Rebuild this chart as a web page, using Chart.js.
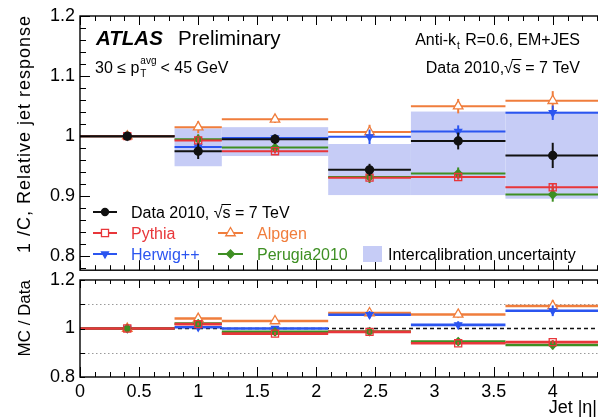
<!DOCTYPE html>
<html>
<head>
<meta charset="utf-8">
<script src="https://cdn.jsdelivr.net/npm/chart.js@4"></script>
<style>
html, body { margin: 0; padding: 0; background: #fff; overflow: hidden; width: 598px; height: 419px; }
canvas { position: absolute; left: 0; }
#top { top: 0; }
#ratio { top: 262px; }
</style>
</head>
<body>
<canvas id="top" width="600" height="286"></canvas>
<canvas id="ratio" width="600" height="157"></canvas>
<script>
// eta bins
const binLo = [0, 0.8, 1.2, 2.1, 2.8, 3.6];
const binHi = [0.8, 1.2, 2.1, 2.8, 3.6, 4.4];
const binCenter = [0.4, 1.0, 1.65, 2.45, 3.2, 4.0];

// relative response 1/C
const dataResp = [1.0, 0.975, 0.995, 0.944, 0.992, 0.968];
const dataErr = [0.002, 0.013, 0.008, 0.010, 0.014, 0.021];
const pythiaResp = [1.0, 0.993, 0.975, 0.931, 0.932, 0.915];
const alpgenResp = [1.0, 1.015, 1.028, 1.007, 1.050, 1.059];
const herwigResp = [1.0, 0.982, 0.997, 0.999, 1.008, 1.039];
const perugiaResp = [1.0, 0.995, 0.981, 0.932, 0.938, 0.903];
const pythiaErr = [0, 0.004, 0.004, 0.004, 0.004, 0.006];
const alpgenErr = [0, 0.010, 0.006, 0.012, 0.012, 0.016];
const herwigErr = [0, 0.008, 0.006, 0.012, 0.010, 0.012];
const perugiaErr = [0, 0.008, 0.006, 0.010, 0.010, 0.012];

// intercalibration uncertainty band
const bandLo = [null, 0.950, 0.967, 0.902, 0.902, 0.896];
const bandHi = [null, 1.013, 1.015, 0.987, 1.041, 1.041];

// MC / Data
const pythiaRatio = [1.0, 1.018, 0.979, 0.986, 0.939, 0.944];
const alpgenRatio = [1.0, 1.041, 1.031, 1.064, 1.058, 1.093];
const herwigRatio = [1.0, 1.005, 1.000, 1.057, 1.015, 1.073];
const perugiaRatio = [1.0, 1.020, 0.986, 0.987, 0.946, 0.932];
const pythiaRatioErr = [0, 0.006, 0.006, 0.006, 0.006, 0.008];
const alpgenRatioErr = [0, 0.015, 0.010, 0.015, 0.015, 0.025];
const herwigRatioErr = [0, 0.012, 0.010, 0.015, 0.015, 0.022];
const perugiaRatioErr = [0, 0.012, 0.010, 0.012, 0.012, 0.018];

// ticks
const topYTicks = [0.8, 0.9, 1, 1.1, 1.2];
const ratioYTicks = [0.8, 0.9, 1, 1.1, 1.2];
const xTicks = [0, 0.5, 1, 1.5, 2, 2.5, 3, 3.5, 4];

const FONT = "'Liberation Sans', Arial, Helvetica, sans-serif";
Chart.defaults.font.family = FONT;
Chart.defaults.color = '#000';

const colData = '#111111';
const colPythia = '#e8363a';
const colAlpgen = '#f07d3c';
const colHerwig = '#2b55f0';
const colPerugia = '#3e8f23';
const colBand = '#c6ccf6';

const stepData = vals => {
  const pts = [];
  vals.forEach((v, i) => {
    pts.push({x: binLo[i], y: v}, {x: binHi[i], y: v}, {x: binHi[i], y: null});
  });
  return pts;
};
const markData = vals => vals.map((v, i) => ({x: binCenter[i], y: v}));

const lineSet = (vals, color, width, order) => ({
  data: stepData(vals), showLine: true, borderColor: color, borderWidth: width,
  pointRadius: 0, spanGaps: false, order: order
});
const markSet = (vals, errs, color, style, radius, fill, order, rot) => ({
  data: markData(vals), showLine: false, errors: errs, errColor: color,
  pointStyle: style, pointRadius: radius, pointRotation: rot || 0,
  pointBackgroundColor: fill, pointBorderColor: color, pointBorderWidth: 1.3,
  order: order
});

const near = (a, b) => Math.abs(a - b) < 1e-6;
const fmt = v => String(Math.round(v * 10) / 10);

// error bars drawn just before the marker dataset
const errorBars = {
  id: 'errorBars',
  beforeDatasetDraw(chart, args) {
    const ds = chart.data.datasets[args.index];
    if (!ds.errors) return;
    const {ctx, scales: {x, y}} = chart;
    ctx.save();
    ctx.strokeStyle = ds.errColor;
    ctx.lineWidth = 2;
    ds.data.forEach((p, i) => {
      const e = ds.errors[i];
      if (!e) return;
      const px = x.getPixelForValue(p.x);
      ctx.beginPath();
      ctx.moveTo(px, y.getPixelForValue(p.y - e));
      ctx.lineTo(px, y.getPixelForValue(p.y + e));
      ctx.stroke();
    });
    ctx.restore();
  }
};

const bandPlugin = {
  id: 'band',
  beforeDatasetsDraw(chart) {
    const {ctx, scales: {x, y}} = chart;
    ctx.save();
    ctx.fillStyle = colBand;
    binLo.forEach((lo, i) => {
      if (bandLo[i] == null) return;
      const x0 = x.getPixelForValue(lo), x1 = x.getPixelForValue(binHi[i]);
      const y0 = y.getPixelForValue(bandHi[i]), y1 = y.getPixelForValue(bandLo[i]);
      ctx.fillRect(x0, y0, x1 - x0, y1 - y0);
    });
    ctx.restore();
  }
};

const refLines = {
  id: 'refLines',
  beforeDatasetsDraw(chart) {
    const {ctx, chartArea: a, scales: {y}} = chart;
    ctx.save();
    ctx.lineWidth = 1;
    ctx.strokeStyle = '#9a9a9a';
    ctx.setLineDash([1.5, 2.5]);
    [0.9, 1.1].forEach(v => {
      const py = Math.round(y.getPixelForValue(v)) + 0.5;
      ctx.beginPath(); ctx.moveTo(a.left, py); ctx.lineTo(a.right, py); ctx.stroke();
    });
    ctx.strokeStyle = '#111';
    ctx.lineWidth = 1.5;
    ctx.setLineDash([4, 3]);
    const py = y.getPixelForValue(1);
    ctx.beginPath(); ctx.moveTo(a.left, py); ctx.lineTo(a.right, py); ctx.stroke();
    ctx.restore();
  }
};

// ROOT style frame with inward ticks
const framePlugin = {
  id: 'frame',
  afterDatasetsDraw(chart, args, o) {
    const {ctx, chartArea: a, scales: {x, y}} = chart;
    ctx.save();
    ctx.strokeStyle = '#000';
    ctx.lineWidth = 1.4;
    ctx.strokeRect(a.left, a.top, a.right - a.left, a.bottom - a.top);
    ctx.lineWidth = 1;
    for (let v = 0; v <= x.max + 1e-9; v += o.xMinor) {
      const px = Math.round(x.getPixelForValue(v)) + 0.5;
      const major = xTicks.some(t => near(t, v));
      const lb = major ? o.xMajB : o.xMinB, lt = major ? o.xMajT : o.xMinT;
      ctx.beginPath();
      ctx.moveTo(px, a.bottom); ctx.lineTo(px, a.bottom - lb);
      ctx.moveTo(px, a.top); ctx.lineTo(px, a.top + lt);
      ctx.stroke();
    }
    const start = Math.ceil(y.min / o.yMinor - 1e-6) * o.yMinor;
    for (let v = start; v <= y.max + 1e-9; v += o.yMinor) {
      const py = Math.round(y.getPixelForValue(v)) + 0.5;
      const major = o.yMajors.some(t => near(t, v));
      const l = major ? o.yMaj : o.yMin;
      if (!l) continue;
      ctx.beginPath();
      ctx.moveTo(a.left, py); ctx.lineTo(a.left + l, py);
      ctx.stroke();
    }
    ctx.restore();
  }
};

function drawMarker(ctx, style, radius, x, y, stroke, fill, rot) {
  ctx.save();
  ctx.strokeStyle = stroke;
  ctx.fillStyle = fill;
  ctx.lineWidth = 1.3;
  Chart.helpers.drawPoint(ctx, {pointStyle: style, radius: radius, rotation: rot || 0, borderWidth: 1.3}, x, y);
  ctx.restore();
}

// overline above the "s" that follows the root sign
function rootBar(ctx, x0, base, before) {
  const xs = x0 + ctx.measureText(before).width;
  const ws = ctx.measureText('s').width;
  ctx.save();
  ctx.strokeStyle = ctx.fillStyle;
  ctx.lineWidth = 1;
  ctx.beginPath();
  ctx.moveTo(xs - 1, base - 13.5); ctx.lineTo(xs + ws + 0.5, base - 13.5);
  ctx.stroke();
  ctx.restore();
}

function legendItem(ctx, x0, x1, yc, color, style, radius, fill, rot, label, textColor) {
  ctx.save();
  ctx.strokeStyle = color;
  ctx.lineWidth = 2;
  ctx.beginPath(); ctx.moveTo(x0, yc); ctx.lineTo(x1, yc); ctx.stroke();
  ctx.restore();
  drawMarker(ctx, style, radius, (x0 + x1) / 2, yc, color, fill, rot);
  ctx.fillStyle = textColor;
  ctx.fillText(label, x1 + 14, yc + 6);
}

// draws "main" then a subscript and superscript on one spot, returns end x
function textSubSup(ctx, x, base, size, main, sub, sup) {
  ctx.font = size + 'px ' + FONT;
  ctx.fillText(main, x, base);
  let xe = x + ctx.measureText(main).width;
  ctx.font = Math.round(size * 0.62) + 'px ' + FONT;
  let w = 0;
  if (sub) { ctx.fillText(sub, xe + 1, base + 4); w = ctx.measureText(sub).width; }
  if (sup) { ctx.fillText(sup, xe + 1, base - 9); w = Math.max(w, ctx.measureText(sup).width); }
  return xe + w + 2;
}

const topText = {
  id: 'topText',
  afterDraw(chart) {
    const ctx = chart.ctx;
    ctx.save();
    ctx.fillStyle = '#000';
    ctx.textBaseline = 'alphabetic';
    ctx.font = 'italic bold 20.5px ' + FONT;
    ctx.fillText('ATLAS', 96, 45);
    ctx.font = '20.5px ' + FONT;
    ctx.fillText('Preliminary', 178, 45);

    let xe = textSubSup(ctx, 95, 73, 16, '30 \u2264 p', 'T', 'avg');
    ctx.font = '16px ' + FONT;
    ctx.fillText('< 45 GeV', xe + 3, 73);

    // right-hand labels
    ctx.font = '16px ' + FONT;
    const wA = ctx.measureText('Anti-k').width;
    const wB = ctx.measureText(' R=0.6, EM+JES').width;
    ctx.font = '10px ' + FONT;
    const wt = ctx.measureText('t').width + 2;
    let x0 = 580 - (wA + wt + wB);
    ctx.font = '16px ' + FONT;
    ctx.fillText('Anti-k', x0, 45);
    ctx.font = '10px ' + FONT;
    ctx.fillText('t', x0 + wA + 1, 49);
    ctx.font = '16px ' + FONT;
    ctx.fillText(' R=0.6, EM+JES', x0 + wA + wt, 45);

    const energy = 'Data 2010,\u221As = 7 TeV';
    const xE = 580 - ctx.measureText(energy).width;
    ctx.fillText(energy, xE, 73);
    rootBar(ctx, xE, 73, 'Data 2010,\u221A');

    // y title
    ctx.save();
    ctx.translate(25, 15);
    ctx.rotate(-Math.PI / 2);
    ctx.textAlign = 'right';
    ctx.textBaseline = 'middle';
    ctx.font = '18px ' + FONT;
    ctx.letterSpacing = '1px';
    ctx.fillText('1 /C, Relative jet response', 0, 0);
    ctx.restore();

    // legend
    ctx.font = '16px ' + FONT;
    legendItem(ctx, 93, 117, 212, colData, 'circle', 3.5, colData, 0, 'Data 2010, \u221As = 7 TeV', '#000');
    rootBar(ctx, 131, 218, 'Data 2010, \u221A');
    legendItem(ctx, 93, 117, 233, colPythia, 'rect', 5, '#fff', 0, 'Pythia', colPythia);
    legendItem(ctx, 218, 243, 233, colAlpgen, 'triangle', 5.5, '#fff', 0, 'Alpgen', colAlpgen);
    legendItem(ctx, 93, 117, 254, colHerwig, 'triangle', 4, colHerwig, 180, 'Herwig++', colHerwig);
    legendItem(ctx, 218, 243, 254, colPerugia, 'rectRot', 4, colPerugia, 0, 'Perugia2010', colPerugia);
    ctx.fillStyle = colBand;
    ctx.fillRect(363, 246, 19, 16);
    ctx.fillStyle = '#000';
    ctx.fillText('Intercalibration uncertainty', 388, 260);
    ctx.restore();
  }
};

const ratioText = {
  id: 'ratioText',
  afterDraw(chart) {
    const ctx = chart.ctx;
    ctx.save();
    ctx.fillStyle = '#000';
    ctx.font = '18px ' + FONT;
    ctx.textAlign = 'right';
    ctx.fillText('Jet |\u03b7|', 597, 151);
    ctx.translate(25, 18);
    ctx.rotate(-Math.PI / 2);
    ctx.textBaseline = 'middle';
    ctx.font = '17px ' + FONT;
    ctx.fillText('MC / Data', 0, 0);
    ctx.restore();
  }
};

const yAxis = (min, max, ticks) => ({
  type: 'linear', min: min, max: max,
  afterBuildTicks: s => { s.ticks = ticks.map(v => ({value: v})); },
  afterFit: s => { s.width = 80; },
  grid: {display: false, drawTicks: false},
  border: {display: false},
  ticks: {font: {size: 18}, padding: 5, color: '#000', callback: fmt}
});

new Chart(document.getElementById('top').getContext('2d'), {
  type: 'scatter',
  data: {
    datasets: [
      markSet(dataResp, dataErr, colData, 'circle', 4, colData, 0),
      lineSet(dataResp, colData, 2, 1),
      markSet(pythiaResp, pythiaErr, colPythia, 'rect', 5, 'rgba(255,255,255,0)', 2),
      markSet(perugiaResp, perugiaErr, colPerugia, 'rectRot', 4, colPerugia, 3),
      markSet(herwigResp, herwigErr, colHerwig, 'triangle', 4, colHerwig, 4, 180),
      markSet(alpgenResp, alpgenErr, colAlpgen, 'triangle', 5.5, '#fff', 5),
      lineSet(pythiaResp, colPythia, 2, 6),
      lineSet(perugiaResp, colPerugia, 2, 7),
      lineSet(herwigResp, colHerwig, 2, 8),
      lineSet(alpgenResp, colAlpgen, 2, 9)
    ]
  },
  options: {
    responsive: false,
    animation: false,
    layout: {autoPadding: false, padding: {top: 16, bottom: 8, left: 0, right: 0}},
    plugins: {
      legend: {display: false}, tooltip: {enabled: false},
      frame: {xMinor: 0.125, xMajB: 10, xMinB: 5, xMajT: 9, xMinT: 5, yMinor: 0.02, yMajors: topYTicks, yMaj: 10, yMin: 6}
    },
    scales: {
      x: {type: 'linear', min: 0, max: 4.4, display: false},
      y: yAxis(0.777, 1.2, topYTicks)
    }
  },
  plugins: [bandPlugin, errorBars, framePlugin, topText]
});

new Chart(document.getElementById('ratio').getContext('2d'), {
  type: 'scatter',
  data: {
    datasets: [
      markSet(pythiaRatio, pythiaRatioErr, colPythia, 'rect', 5, 'rgba(255,255,255,0)', 0),
      markSet(perugiaRatio, perugiaRatioErr, colPerugia, 'rectRot', 4, colPerugia, 1),
      markSet(herwigRatio, herwigRatioErr, colHerwig, 'triangle', 4, colHerwig, 2, 180),
      markSet(alpgenRatio, alpgenRatioErr, colAlpgen, 'triangle', 5.5, '#fff', 3),
      lineSet(pythiaRatio, colPythia, 2.6, 4),
      lineSet(perugiaRatio, colPerugia, 2.6, 5),
      lineSet(herwigRatio, colHerwig, 2.6, 6),
      lineSet(alpgenRatio, colAlpgen, 2.6, 7)
    ]
  },
  options: {
    responsive: false,
    animation: false,
    layout: {autoPadding: false, padding: {top: 18, bottom: 0, left: 0, right: 0}},
    plugins: {
      legend: {display: false}, tooltip: {enabled: false},
      frame: {xMinor: 0.125, xMajB: 10, xMinB: 5, xMajT: 8, xMinT: 4, yMinor: 0.1, yMajors: ratioYTicks, yMaj: 5, yMin: 0}
    },
    scales: {
      x: {
        type: 'linear', min: 0, max: 4.4,
        afterBuildTicks: s => { s.ticks = xTicks.map(v => ({value: v})); },
        afterFit: s => { s.height = 42; },
        grid: {display: false, drawTicks: false},
        border: {display: false},
        ticks: {font: {size: 18}, padding: 4, color: '#000', autoSkip: false, maxRotation: 0, callback: fmt}
      },
      y: yAxis(0.8, 1.2, ratioYTicks)
    }
  },
  plugins: [refLines, errorBars, framePlugin, ratioText]
});
</script>
</body>
</html>
